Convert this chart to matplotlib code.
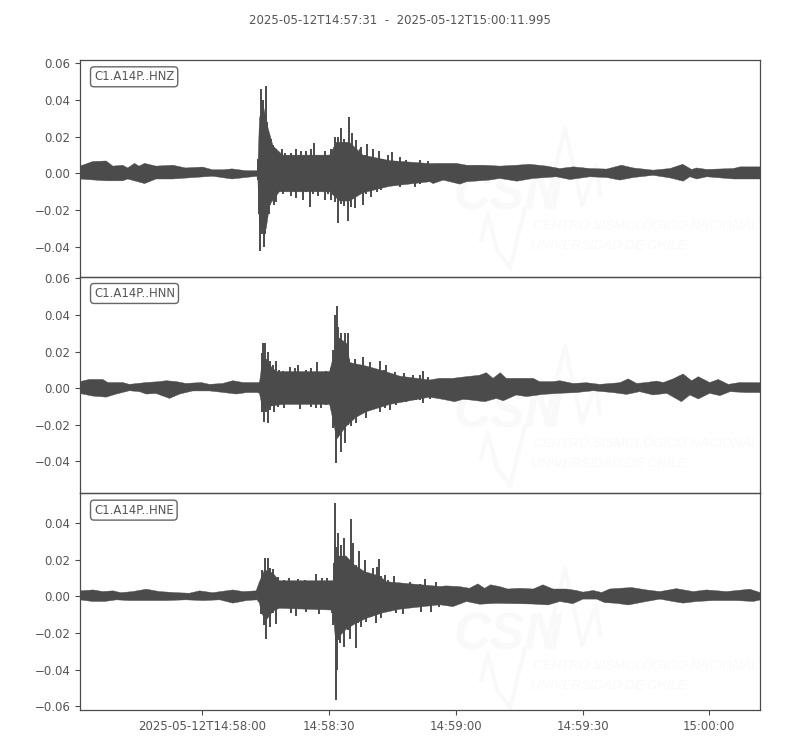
import matplotlib
matplotlib.use("Agg")
import matplotlib.pyplot as plt
from matplotlib.lines import Line2D
from matplotlib.ticker import FixedLocator, FixedFormatter
import numpy as np

# Envelope of each trace: seconds after start, amplitude in 1e-3
z_top_t = [0,3,6.2,7.8,10.1,11.3,12.9,14,15.3,18,22,25,29,31.4,33.8,36,39.3,41.9,
           42.0,42.2,42.5,42.75,42.95,43.06,43.3,43.5,43.75,44.0,44.3,44.7,45.2,45.7,46.5,47.1,47.8,48.6,49.2,50,51.2,52,52.4,53.2,53.6,54.8,55.5,56.3,57.1,57.9,58.7,59.5,60.3,61.1,61.9,62.6,63.6,64.1,64.4,65,65.3,66.2,66.6,67.4,68,68.7,69.4,70,70.8,71.7,72.9,73.9,74.9,75.7,
           77.3,80.4,82.4,84.4,86.8,89.1,91.5,95.5,99.4,103.4,106.5,110.5,113.6,116.8,120.7,124.7,128.2,131,135.7,139.7,142.7,144.8,146,148.4,154.7,156.3,161]
z_top_a = [4,6.5,6.8,4,4.5,3,5.5,4,5.5,4,4.5,3,3.5,2,2,2.5,1.5,1.5,
           2,8,24,46,30,40,40,31,30,47.5,28,20,19,15.5,13.5,10,13.5,11,9,11,13.5,9.5,12.5,9,12.5,13.5,16.4,10,8,12.5,10,13.5,20,20,24.5,19,31,16,22,12,18,13.5,14.5,10,16,9,13.5,8,12,8,10,11.5,7,9,
           7.6,7.3,7,5.5,5.5,5.5,4.5,4.5,4,4.5,5,4,2.7,3.6,2.7,2.4,4.5,3,1.8,2.7,5,2.2,3,2.2,2.7,3.6,3.6]
z_bot_t = [0,3,6.2,10.1,11.3,12.9,15.3,18,22,25,31.4,36,41.9,
           42.0,42.35,42.67,43.06,43.46,43.85,44.25,44.64,45.04,45.83,46.46,47.25,48.04,48.83,50,50.8,51.2,52,52.8,53.6,54.4,55.15,56.3,57.1,57.9,58.7,59.5,60.3,61.2,61.9,62.5,63.45,64.2,65,65.8,67,67.8,69,70.2,71.3,73.3,
           75.7,79.2,80.4,83.6,86,89.9,91.5,96.9,99.4,103.4,107.3,112.8,116,120.7,124.7,127.8,131,135.7,139.7,142.8,144.4,146,148.4,154.7,161]
z_bot_a = [-3,-3.5,-4,-4,-3,-4,-5.5,-3,-3,-2.5,-1.5,-3,-1.5,
           -3.6,-22,-42,-33,-40,-33,-24,-22,-17,-17,-15.5,-9,-11,-8,-12,-10,-13.6,-9,-14.5,-10,-18,-11,-12,-8,-14.5,-11,-14.5,-15.5,-27,-16.5,-17.5,-26,-18,-19,-10,-17,-11,-12.7,-10,-9,-6.4,
           -7.3,-7.6,-5.5,-5.5,-3.6,-5.8,-4.5,-3.6,-2.7,-4.2,-2.7,-1.8,-3.3,-1.8,-2.2,-3.6,-2.2,-1,-2.4,-4.2,-1.8,-3,-1.8,-3,-3]

n_top_t = [0,2.2,5.4,6.6,10.1,11.7,13.7,15.7,18.8,20.4,22.8,25.1,28.7,30.7,33.8,36.2,38.6,42.1,
           42.5,43,43.3,43.85,44.1,44.6,45,45.7,46.3,46.6,47.1,48,49,49.8,50.4,50.96,51.6,52.4,53.6,54.8,55.5,56.2,57.1,58.3,59.5,60,60.4,60.8,61.2,61.9,62.7,63.4,63.8,65,65.8,67,67.5,68.7,69.5,71.1,71.9,72.5,73.3,74.5,75.3,76.6,77.7,78.9,80,
           80.4,81.2,82.4,85.1,88.3,90.7,94.6,96.2,97.8,99.5,100.9,104.1,107.3,108.8,112,113.6,116.7,119.9,123,127.8,129.8,131.8,134.1,136.5,138.1,140.4,142.8,144.8,146.4,149.1,151.1,153.5,156.2,161]
n_top_a = [3.5,4.7,4.7,3,3,2,2.5,3,3.5,4,3.5,2.5,3,2,2.5,4,3,3,
           3.5,19,24.8,24.8,16,20,15,12.6,15,7,10,9.5,7,11.7,7.7,10.7,12.6,8,10,11,8,14,7.7,9.5,10.8,21,40,45,33.6,30,30,30,16,15.7,12.6,17,11.7,14.4,9,15,9.8,12.6,7,9,6.2,8.4,5.3,7,4.7,
           7,9.5,6,5.3,5.3,6,7,8.4,5.3,8.4,5.3,5.3,5.3,3.5,3.5,4,2.5,2.9,2,2.9,5,2.5,3,3.8,3,5,7.7,4,6.2,3,4.7,2,3,2.9]
n_bot_t = [0,3,6.2,8.6,11.7,14.1,15.7,18,21.2,23.6,26.7,30.7,33.8,37,39.4,42.1,
           42.5,43.1,43.6,44.1,44.6,45,46,46.9,48.4,49.6,50.8,52,53.2,54.8,55.9,57.1,58.3,59.5,59.9,60.7,61.2,61.9,62.7,63.4,64.2,65.4,66.6,67.8,69.4,70.95,72.1,73.3,74.9,77.3,79.6,
           80.4,81.2,82.8,85.9,88.7,90.7,92.6,95.8,98.6,100.2,103.3,105.7,109.6,113.6,117.5,121.5,126.2,129.4,132.5,135.7,138.9,142.4,144.4,146.4,149.1,151.5,153.9,157.8,161]
n_bot_a = [-3,-4.4,-5,-3.3,-1.5,-2,-3.3,-3,-5.7,-3.3,-1.6,-1.6,-2.4,-3.3,-2.5,-2.5,
           -3,-13,-18.4,-13,-19,-12,-13,-10.2,-11.1,-7.5,-8.4,-11.7,-8.4,-10.2,-11.1,-11.1,-9.3,-10.2,-22,-41,-27,-35,-30,-20,-21,-19.4,-13.9,-16.6,-10.2,-13,-11.1,-12,-9.3,-7.5,-6.6,
           -6.6,-8,-6.2,-6.2,-7.5,-6.2,-6.6,-7.5,-5.7,-7,-3.8,-4.7,-3.5,-2.9,-2.5,-1.5,-2.5,-3.5,-2,-3.8,-2.9,-7.5,-3.8,-6,-2.9,-4.2,-2,-2.5,-2.5]

e_top_t = [0,3.1,5.4,7.8,9.7,12.5,15.7,18.8,22.8,25.9,28.3,31.4,36.2,38.6,41.7,
           42.5,43.1,43.85,44.6,45,45.7,46.3,46.9,47.6,48.4,49.6,50.4,51.6,53.2,54,55.8,56.6,57.4,58.5,59.5,60.1,60.4,60.7,61.2,61.9,62.5,63.2,64.1,64.4,64.6,65.4,66,66.6,67.4,68.2,69.4,70.2,70.8,71.3,72.1,72.9,74.3,75.3,76.5,78.1,79.6,
           80.4,81.6,84.4,86.7,89.9,92.2,94.2,95.8,97.2,99.4,101.3,104.1,107.3,109.6,112,115.2,117.5,119.1,121.5,123.5,125.4,127.8,130.6,134.1,137.3,141.2,145.2,148.3,153.1,158.6,161]
e_top_a = [3,3.5,2.6,3,2,2.6,3.9,2.6,2,1.7,3,2,3.5,2.6,3,
           8,14.5,20.8,20.8,15.5,14.8,10,10.5,7,9,10,7,9.3,9,7,12,8,10,10,6.6,18,51,27,34.5,28,31.8,20,42,18,29,17,25,12.5,20,11,15.4,16,20.5,11,11.7,9,11,4.5,7,8,6.3,
           7,9.4,8,5.7,5.3,4.4,6.8,4.4,6.3,5.3,4,4.4,4,6.3,4,4,3.2,2.3,3.2,2.1,4,4.4,4.8,3.5,2.6,4.2,2.6,3.5,2.6,3.9,2.1]
e_bot_t = [0,3,5.8,8.6,11.7,15.7,20.4,25.1,29.1,33.1,36.2,39.4,41.9,
           42.5,42.9,43.5,44,44.5,45,45.7,46.5,47.2,48.4,50,51.2,52.4,53.6,55.5,56.7,58.3,59.7,60,60.5,60.8,61.3,61.6,62.6,63.4,64,65.3,65.8,66.6,67.8,69,70,71.3,72.5,74.9,76.5,78.1,
           80.8,83.2,85.1,88.3,91.5,94.6,98.6,103.3,107.3,110.8,113.6,116.7,119.1,122.3,124.2,127,129.8,134.1,137.3,140.4,142.8,146,149.9,155.5,159.4,161]
e_bot_a = [-1.9,-2.8,-2.8,-1.9,-2.3,-2.3,-2.3,-1.9,-2.3,-1.9,-3.7,-2.3,-1.9,
           -3.7,-9.5,-15.5,-23,-10,-16.5,-9,-15,-5.5,-6.4,-9,-10.6,-6.4,-8.3,-5.5,-9.5,-6,-9,-15.5,-56.5,-40,-23.7,-25.5,-27.8,-18.3,-23,-28,-14.6,-16.5,-14,-11,-14.6,-12,-8.3,-9,-9.5,-5.5,
           -8.3,-8.8,-5.6,-5.6,-2.8,-4.3,-3.8,-4,-4.2,-4.7,-2.8,-4,-1.5,-1.5,-3.4,-3.8,-4.7,-2.8,-1.5,-2.8,-3.7,-2.8,-2.3,-2.3,-2.8,-2]

# Solid body of the waveform during the event (without the spikes), also
z_core_top_t = [42.1,42.5,43.3,44.5,45.7,48,59.1,60.7,63.8,67,73.3,82.8]
z_core_top_a = [2,30,38,25,15,10,10,17,17,10,7,5.4]
z_core_bot_t = [42.1,42.5,44.1,44.9,47.2,59.1,61.5,63.8,67,73.3,82.8]
z_core_bot_a = [-2,-30,-30,-17,-10,-10,-15,-15,-10.5,-7,-4.5]
n_core_top_t = [42.5,43.3,44.9,46.5,59.1,60.3,61,63.4,63.8,67.8,71.7,75.7,82.8]
n_core_top_a = [3,17,12.5,9,9,20,28,24,14,12,9.5,6.5,4.4]
n_core_bot_t = [42.5,43.3,44.9,48,59.1,59.9,60.8,63,65.4,67.8,73.3,82.8]
n_core_bot_a = [-3,-12,-10,-9,-9,-17.5,-28,-21,-16,-13,-9,-5]
e_core_top_t = [42.5,43.7,45.7,47.2,59.9,60.7,63,65,67.4,71,72.5,85.2]
e_core_top_a = [8,14.5,12.6,8.5,8.5,22,22,17,13.5,11,8,5.4]
e_core_bot_t = [42.9,44.1,45.7,47.2,59.9,60.5,63,65.4,67.8,71.7,75.7,85.2]
e_core_bot_a = [-9,-13,-8,-6.5,-7.5,-24,-18,-14.6,-12,-9,-7,-4.6]

trace_names = ["C1.A14P..HNZ", "C1.A14P..HNN", "C1.A14P..HNE"]
y_ticks = [[-0.04, -0.02, 0.0, 0.02, 0.04, 0.06],
           [-0.04, -0.02, 0.0, 0.02, 0.04, 0.06],
           [-0.06, -0.04, -0.02, 0.0, 0.02, 0.04]]
y_limits = [(-0.0562, 0.0618), (-0.0577, 0.0610), (-0.0620, 0.0562)]
x_tick_s = [29, 59, 89, 119, 149]
x_tick_labels = ["2025-05-12T14:58:00", "14:58:30", "14:59:00", "14:59:30", "15:00:00"]
duration = 160.995
title = "2025-05-12T14:57:31  -  2025-05-12T15:00:11.995"

INK = "#4b4b4b"
TXT = "#555555"
MARK = "#f9f9f9"
W, H = 800, 750
fig = plt.figure(figsize=(8, 7.5), dpi=100)
fig.text(0.5, 1 - 20.5 / H, title, ha="center", va="center", fontsize=8.45, color=TXT)

panels = [(60, 276.67), (276.67, 493.33), (493.33, 710)]
traces = [(z_top_t, z_top_a, z_bot_t, z_bot_a, z_core_top_t, z_core_top_a, z_core_bot_t, z_core_bot_a),
          (n_top_t, n_top_a, n_bot_t, n_bot_a, n_core_top_t, n_core_top_a, n_core_bot_t, n_core_bot_a),
          (e_top_t, e_top_a, e_bot_t, e_bot_a, e_core_top_t, e_core_top_a, e_core_bot_t, e_core_bot_a)]
mark_dy = [0, 218, 440]


def body(t, a, core_t, core_a):
    """Quiet and tail outline from the envelope, event outline from the solid body."""
    t, a = np.asarray(t, float), np.asarray(a, float)
    before = t < core_t[0]
    after = t > core_t[-1]
    return np.r_[t[before], core_t, t[after]], np.r_[a[before], core_a, a[after]]


for i, (pan, tr) in enumerate(zip(panels, traces)):
    ax = fig.add_axes([80 / W, 1 - pan[1] / H, 680 / W, (pan[1] - pan[0]) / H])
    ax.patch.set_alpha(0)
    ax.set_zorder(2)
    tt, ta, bt, ba, ctt, cta, cbt, cba = tr
    ut, ua = body(tt, ta, ctt, cta)
    lt, la = body(bt, ba, cbt, cba)
    ax.fill(np.r_[ut, lt[::-1]], np.r_[ua, la[::-1]] * 1e-3, facecolor=INK, edgecolor=INK, lw=0.3, zorder=3)
    for t, a, c in ((tt, ta, ctt), (bt, ba, cbt)):
        t, a = np.asarray(t, float), np.asarray(a, float)
        m = (t >= c[0]) & (t <= c[-1])
        ax.vlines(t[m], 0, a[m] * 1e-3, color=INK, lw=1.4, zorder=3)
    ax.set_xlim(0, duration)
    ax.set_ylim(*y_limits[i])
    ax.yaxis.set_major_locator(FixedLocator(y_ticks[i]))
    ax.set_yticklabels(["\u2212%.2f" % abs(v) if v < 0 else "%.2f" % v for v in y_ticks[i]])
    ax.tick_params(axis="both", colors=INK, labelcolor=TXT, labelsize=8.45, length=3.5, width=0.8, pad=3.5)
    if i == 2:
        ax.xaxis.set_major_locator(FixedLocator(x_tick_s))
        ax.xaxis.set_major_formatter(FixedFormatter(x_tick_labels))
    else:
        ax.set_xticks([])
    for s in ax.spines.values():
        s.set_color(INK)
        s.set_linewidth(0.9)
    ax.text(14 / 680, 1 - 16.8 / (pan[1] - pan[0]), trace_names[i], transform=ax.transAxes,
            ha="left", va="center", fontsize=8.35, color=TXT, zorder=5,
            bbox=dict(boxstyle="round,pad=0.3", fc="white", ec="#666666", lw=1.0))

    # faint institutional watermark behind the waveforms
    dy = mark_dy[i]
    def fx(p): return p / W
    def fy(p): return 1 - (p + dy) / H
    fig.text(fx(453), fy(209), "CSN", fontsize=37, fontstyle="italic", fontweight="bold",
             color=MARK, ha="left", va="baseline", zorder=0, family="Liberation Sans")
    fig.text(fx(533), fy(229), "CENTRO SISMOL\u00d3GICO NACIONAL", fontsize=9.5, fontstyle="italic",
             color=MARK, ha="left", va="baseline", zorder=0, family="Liberation Sans")
    fig.text(fx(531), fy(249), "UNIVERSIDAD DE CHILE", fontsize=9.5, fontstyle="italic",
             color=MARK, ha="left", va="baseline", zorder=0, family="Liberation Sans")
    logo_up_x, logo_up_y = [546, 565, 582, 596, 600], [205, 128, 205, 165, 195]
    logo_lo_x, logo_lo_y = [481, 488, 497, 510, 525], [240, 215, 250, 268, 208]
    for lx, ly, lw in ((logo_up_x, logo_up_y, 3), (logo_lo_x, logo_lo_y, 3)):
        fig.add_artist(Line2D([fx(p) for p in lx], [fy(p) for p in ly], color=MARK, lw=lw,
                              zorder=0, transform=fig.transFigure))

fig.savefig("out.png", dpi=100)
